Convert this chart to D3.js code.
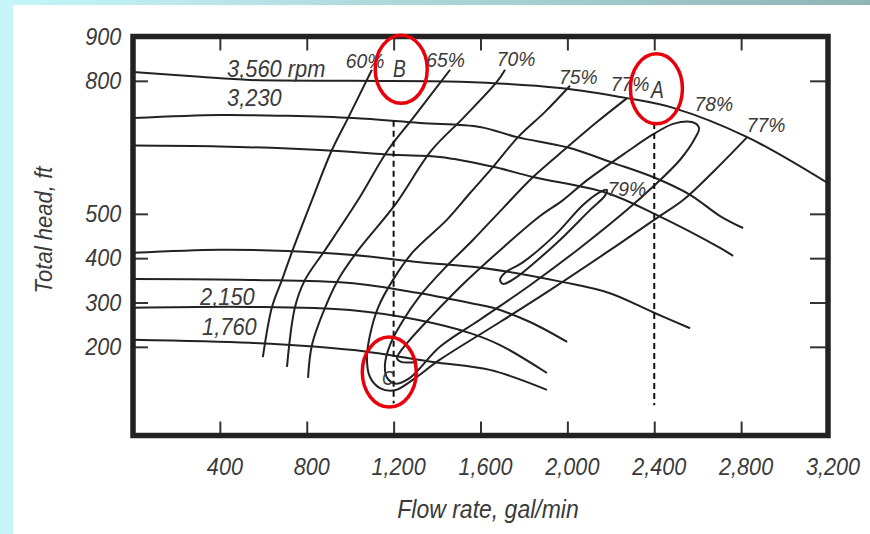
<!DOCTYPE html>
<html>
<head>
<meta charset="utf-8">
<script src="https://cdn.jsdelivr.net/npm/d3@7"></script>
<style>
  html, body { margin: 0; padding: 0; background: #fff; }
  svg text { font-family: "Liberation Sans Narrow", "Arial Narrow", "Liberation Sans", sans-serif; font-style: italic; fill: #3a3a3a; }
</style>
</head>
<body>
<script>
(function () {
// axis ticks
var xTicks = [400, 800, 1200, 1600, 2000, 2400, 2800, 3200];
var yTicks = [200, 300, 400, 500, 800, 900];

// head curves [flow gal/min, head ft]
var rpm3560 = [[0, 820], [308, 809], [538, 802], [999, 800], [1506, 798], [1966, 784], [2275, 761], [2487, 739], [2828, 673], [3200, 569]];
var rpm3230 = [[0, 716], [400, 723], [709, 721], [1013, 716], [1321, 705], [1597, 696], [1768, 673], [1999, 650], [2210, 615], [2394, 583], [2565, 543], [2703, 495], [2809, 468]];
var curveC = [[0, 654], [400, 652], [861, 644], [1197, 633], [1413, 628], [1658, 606], [1842, 583], [2182, 547], [2413, 497], [2703, 423], [2763, 405]];
var curveD = [[0, 412], [400, 419], [709, 416], [1013, 407], [1321, 391], [1611, 378], [1980, 346], [2196, 321], [2394, 278], [2565, 242]];
var curveE = [[0, 353], [538, 351], [999, 344], [1308, 322], [1552, 299], [1658, 288], [1828, 256], [1999, 211]];
var rpm2150 = [[0, 288], [538, 290], [999, 283], [1308, 261], [1552, 231], [1690, 204], [1906, 141]];
var rpm1760 = [[0, 216], [538, 209], [847, 200], [1077, 189], [1381, 166], [1644, 148], [1906, 103]];

// efficiency contours
var eff60 = [[1100, 825], [990, 716], [916, 644], [824, 531], [732, 414], [686, 351], [640, 290], [598, 177]];
var eff65 = [[1460, 825], [1289, 716], [1174, 644], [1036, 531], [884, 418], [792, 351], [746, 290], [709, 155]];
var eff70 = [[1713, 825], [1676, 798], [1520, 716], [1376, 644], [1206, 520], [1031, 414], [944, 351], [884, 288], [824, 204], [806, 130]];
var eff75 = [[2012, 789], [1897, 730], [1773, 673], [1658, 606], [1552, 547], [1446, 487], [1289, 414], [1197, 351], [1128, 288], [1091, 226], [1077, 175], [1091, 132], [1137, 107], [1206, 102], [1289, 126], [1413, 171], [1690, 256], [1920, 328], [2196, 418], [2413, 491], [2533, 531], [2680, 599], [2828, 673]];
var eff77 = [[2275, 761], [2136, 707], [1999, 650], [1842, 583], [1704, 513], [1565, 441], [1436, 378], [1321, 315], [1239, 256], [1183, 204], [1160, 159], [1170, 130], [1211, 117], [1275, 130], [1413, 200], [1597, 261], [1828, 339], [2058, 423], [2275, 509], [2394, 561], [2519, 622], [2588, 671], [2606, 694], [2574, 707], [2487, 703], [2394, 679], [2275, 640], [2091, 576], [1980, 531], [1874, 495], [1690, 418], [1506, 335], [1367, 265], [1275, 216], [1229, 188], [1215, 175], [1234, 166], [1308, 166]];
var eff79 = [[1690, 351], [1713, 367], [1796, 391], [1943, 452], [2072, 520], [2150, 549], [2182, 554], [2173, 541], [2105, 509], [1966, 441], [1851, 391], [1759, 355], [1704, 342]];

// text labels [flow, head, text]
var rpmLabels = [[433, 809, "3,560 rpm"], [433, 743, "3,230"], [309, 295, "2,150"], [318, 227, "1,760"]];
var effLabels = [[980, 829, "60%"], [1350, 831, "65%"], [1675, 834, "70%"], [1962, 793, "75%"], [2200, 777, "77%"], [2585, 732, "78%"], [2826, 685, "77%"], [2185, 540, "79%"]];
var points = [[1197, 809, "B"], [2385, 762, "A"], [1147, 114, "C"]];
var dashed = [[1200, 710, 72], [2400, 705, 68]];
var rings = [[1235, 826, 26, 34], [2410, 782, 26, 35], [1180, 143, 27, 35]];

var W = 870, H = 534;
var svg = d3.select("body").append("svg").attr("width", W).attr("height", H);

// page decoration
var grad = svg.append("defs").append("linearGradient").attr("id", "topband");
grad.append("stop").attr("offset", "0%").attr("stop-color", "#c6f6fa");
grad.append("stop").attr("offset", "100%").attr("stop-color", "#8fb5b5");
svg.append("rect").attr("x", 0).attr("y", 0).attr("width", W).attr("height", H).attr("fill", "#fff");
svg.append("rect").attr("x", 0).attr("y", 0).attr("width", 13).attr("height", H).attr("fill", "#c6f6fa");
svg.append("rect").attr("x", 0).attr("y", 0).attr("width", W).attr("height", 5).attr("fill", "url(#topband)");

var x = d3.scaleLinear().domain([0, 3200]).range([133, 828]);
var y = d3.scaleLinear().domain([0, 900]).range([435.5, 36.5]);

var line = d3.line().x(function (d) { return x(d[0]); }).y(function (d) { return y(d[1]); })
    .curve(d3.curveCatmullRom.alpha(0.5));
var loop = d3.line().x(function (d) { return x(d[0]); }).y(function (d) { return y(d[1]); })
    .curve(d3.curveCatmullRomClosed.alpha(0.5));

// narrow italic text placed at a data point
function place(sel, sx) {
    sel.attr("transform", function (d) {
        return "translate(" + x(d[0]) + "," + y(d[1]) + ") scale(" + sx + ",1)";
    }).text(function (d) { return d[2]; });
}

// axes
var axB = svg.append("g").attr("transform", "translate(0," + y(0) + ")")
    .call(d3.axisBottom(x).tickValues(xTicks).tickSize(-14).tickPadding(22).tickFormat(d3.format(",")));
var axT = svg.append("g").attr("transform", "translate(0," + y(900) + ")")
    .call(d3.axisTop(x).tickValues(xTicks.slice(0, 7)).tickSize(-14).tickFormat(""));
var axL = svg.append("g").attr("transform", "translate(" + x(0) + ",0)")
    .call(d3.axisLeft(y).tickValues(yTicks).tickSize(-15).tickPadding(13));
var axR = svg.append("g").attr("transform", "translate(" + x(3200) + ",0)")
    .call(d3.axisRight(y).tickValues(yTicks.slice(0, 5)).tickSize(-18).tickFormat(""));
[axB, axT, axL, axR].forEach(function (g) {
    g.select(".domain").remove();
    g.selectAll(".tick line").attr("stroke", "#333").attr("stroke-width", 2);
    g.selectAll("text").attr("font-size", 24).attr("fill", "#3a3a3a")
        .attr("font-family", null).attr("transform", "scale(0.9,1)");
});
axB.selectAll("text").attr("dx", 5);

// curves
var curves = [rpm3560, rpm3230, curveC, curveD, curveE, rpm2150, rpm1760, eff60, eff65, eff70, eff75, eff77];
svg.append("g").selectAll("path").data(curves).enter().append("path")
    .attr("d", line).attr("fill", "none").attr("stroke", "#222").attr("stroke-width", 2);
svg.append("path").datum(eff79).attr("d", loop)
    .attr("fill", "none").attr("stroke", "#222").attr("stroke-width", 2);

// dashed verticals
svg.append("g").selectAll("line").data(dashed).enter().append("line")
    .attr("x1", function (d) { return x(d[0]); }).attr("x2", function (d) { return x(d[0]); })
    .attr("y1", function (d) { return y(d[1]); }).attr("y2", function (d) { return y(d[2]); })
    .attr("stroke", "#111").attr("stroke-width", 2).attr("stroke-dasharray", "6,4");

// frame
svg.append("rect").attr("x", x(0)).attr("y", y(900)).attr("width", x(3200) - x(0)).attr("height", y(0) - y(900))
    .attr("fill", "none").attr("stroke", "#222").attr("stroke-width", 5.5);

// labels
svg.append("g").selectAll("text").data(rpmLabels).enter().append("text")
    .attr("font-size", 23).call(place, 0.95);
svg.append("g").selectAll("text").data(effLabels).enter().append("text")
    .attr("font-size", 21).call(place, 0.92);
svg.append("g").selectAll("text").data(points).enter().append("text")
    .attr("font-size", function (d) { return d[2] === "C" ? 21 : 24; })
    .call(place, 0.8);

// red markers
svg.append("g").selectAll("ellipse").data(rings).enter().append("ellipse")
    .attr("cx", function (d) { return x(d[0]); }).attr("cy", function (d) { return y(d[1]); })
    .attr("rx", function (d) { return d[2]; }).attr("ry", function (d) { return d[3]; })
    .attr("fill", "none").attr("stroke", "#e8000b").attr("stroke-width", 3.5);

// axis titles
svg.append("text").attr("transform", "translate(488,518) scale(0.92,1)").attr("text-anchor", "middle")
    .attr("font-size", 25).text("Flow rate, gal/min");
svg.append("text").attr("transform", "translate(52,230) rotate(-90) scale(0.92,1)").attr("text-anchor", "middle")
    .attr("font-size", 24).text("Total head, ft");
}());
</script>
</body>
</html>
